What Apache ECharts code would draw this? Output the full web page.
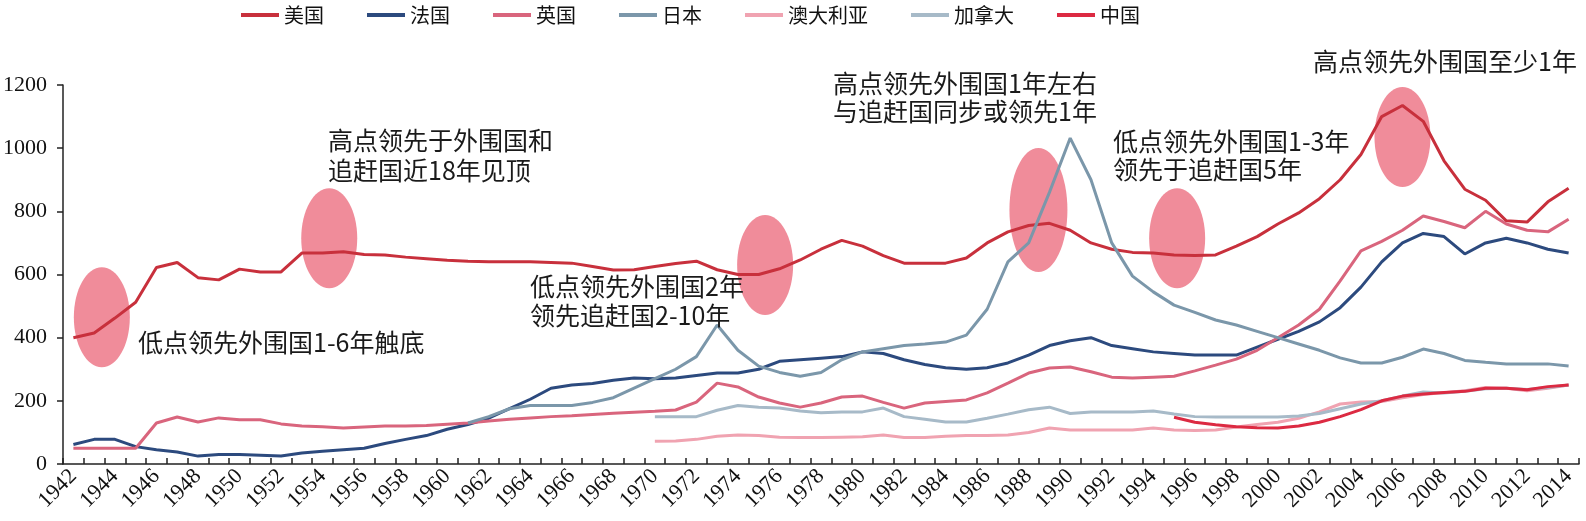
<!DOCTYPE html>
<html>
<head>
<meta charset="utf-8">
<script src="https://cdn.jsdelivr.net/npm/echarts@6/dist/echarts.min.js"></script>
<style>
  html, body { margin: 0; padding: 0; background: #fff; }
  #main { width: 1586px; height: 521px; }
</style>
</head>
<body>
<div id="main"></div>
<script>
// 年份 1942-2014
var years = [];
for (var y = 1942; y <= 2014; y++) { years.push(String(y)); }

var names = ['美国', '法国', '英国', '日本', '澳大利亚', '加拿大', '中国'];
var colors = ['#c8303c', '#2c4a7e', '#d9657d', '#7b97aa', '#f0a3b1', '#a7bac8', '#dc2a42'];

// 美国 1942-2014
var usData = [400, 415, 462, 512, 622, 638, 590, 583, 617, 608,
  608, 668, 668, 672, 663, 662, 655, 650, 645, 642,
  640, 640, 640, 638, 636, 625, 614, 615, 625, 635,
  642, 615, 600, 600, 618, 646, 680, 708, 690, 660,
  636, 636, 636, 652, 700, 735, 755, 762, 740, 700,
  680, 670, 668, 662, 660, 662, 690, 720, 760, 795,
  840, 900, 980, 1100, 1135, 1085, 960, 870, 835, 770,
  766, 830, 873];

// 法国 1942-2014
var franceData = [62, 78, 78, 55, 45, 38, 25, 30, 30, 28,
  25, 35, 40, 45, 50, 65, 78, 90, 110, 125,
  145, 175, 205, 240, 250, 255, 265, 272, 270, 272,
  280, 288, 288, 300, 325, 330, 335, 340, 355, 350,
  330, 315, 305, 300, 305, 320, 345, 375, 390, 400,
  375, 365, 355, 350, 345, 345, 345, 370, 395, 420,
  450, 495, 560, 640, 700, 730, 720, 665, 700, 715,
  700, 680, 668];

// 英国 1942-2014
var ukData = [50, 50, 50, 50, 130, 149, 133, 146, 140, 140,
  127, 120, 118, 114, 117, 120, 120, 122, 126, 130,
  136, 142, 146, 150, 153, 157, 161, 164, 167, 171,
  196, 256, 244, 212, 193, 180, 193, 212, 215, 195,
  177, 193, 198, 203, 225, 256, 288, 304, 307, 292,
  275, 272, 275, 278, 295, 313, 332, 360, 400, 440,
  490, 580, 675, 705, 740, 785, 768, 748, 800, 760,
  740, 735, 775];

// 日本 1961-2014
var japanData = [null, null, null, null, null, null, null, null, null, null,
  null, null, null, null, null, null, null, null, null, 130,
  150, 175, 185, 185, 185, 195, 210, 240, 270, 300,
  340, 440, 360, 310, 290, 278, 290, 330, 355, 365,
  375, 380, 386, 408, 490, 640, 700, 860, 1032, 900,
  700, 595, 545, 503, 480, 456, 440, 420, 400, 380,
  360, 336, 320, 320, 338, 364, 350, 328, 322, 317,
  317, 317, 310];

// 澳大利亚 1970-2014
var ausData = [null, null, null, null, null, null, null, null, null, null,
  null, null, null, null, null, null, null, null, null, null,
  null, null, null, null, null, null, null, null, 72, 73,
  78, 88, 92, 90, 85, 84, 84, 85, 86, 92,
  84, 84, 88, 90, 90, 92, 100, 114, 108, 108,
  108, 108, 114, 108, 106, 108, 117, 125, 132, 145,
  165, 190, 196, 198, 210, 220, 226, 232, 242, 240,
  232, 240, 250];

// 加拿大 1970-2014
var canadaData = [null, null, null, null, null, null, null, null, null, null,
  null, null, null, null, null, null, null, null, null, null,
  null, null, null, null, null, null, null, null, 150, 150,
  150, 170, 185, 180, 177, 168, 162, 165, 165, 177,
  150, 142, 133, 133, 145, 158, 172, 180, 160, 165,
  165, 165, 168, 158, 150, 149, 149, 149, 149, 152,
  160, 175, 190, 200, 215, 228, 225, 230, 238, 240,
  236, 242, 250];

// 中国 1995-2014
var chinaData = [null, null, null, null, null, null, null, null, null, null,
  null, null, null, null, null, null, null, null, null, null,
  null, null, null, null, null, null, null, null, null, null,
  null, null, null, null, null, null, null, null, null, null,
  null, null, null, null, null, null, null, null, null, null,
  null, null, null, 148, 132, 124, 118, 115, 114, 120,
  132, 150, 172, 200, 215, 222, 226, 230, 240, 240,
  235, 245, 250];

var allData = [usData, franceData, ukData, japanData, ausData, canadaData, chinaData];

// 标注：椭圆中心（年份, 数值）和半径
var ovals = [
  {year: 1943.37, value: 465, rx: 28, ry: 50},
  {year: 1954.32, value: 715, rx: 28, ry: 50},
  {year: 1975.31, value: 630, rx: 28, ry: 50},
  {year: 1988.47, value: 804, rx: 29, ry: 62},
  {year: 1995.15, value: 715, rx: 28, ry: 50},
  {year: 2006.0, value: 1035, rx: 28, ry: 50}
];
var notes = [
  {text: '低点领先外围国1-6年触底', x: 138, y: 327, lh: 30},
  {text: '高点领先于外围国和\n追赶国近18年见顶', x: 328, y: 125, lh: 30},
  {text: '低点领先外围国2年\n领先追赶国2-10年', x: 530, y: 272, lh: 29},
  {text: '高点领先外围国1年左右\n与追赶国同步或领先1年', x: 833, y: 69, lh: 28},
  {text: '低点领先外围国1-3年\n领先于追赶国5年', x: 1113, y: 127, lh: 28},
  {text: '高点领先外围国至少1年', x: 1313, y: 47, lh: 28}
];

var chart = echarts.init(document.getElementById('main'));

var series = [];
for (var i = 0; i < names.length; i++) {
  series.push({
    name: names[i],
    type: 'line',
    data: allData[i],
    symbol: 'none',
    connectNulls: false,
    z: 3,
    lineStyle: {width: 3, color: colors[i]},
    itemStyle: {color: colors[i]}
  });
}

var option = {
  animation: false,
  backgroundColor: '#fff',
  legend: {
    data: names,
    left: 236,
    top: 0,
    itemWidth: 38,
    itemHeight: 4,
    itemGap: 43,
    icon: 'rect',
    textStyle: {fontFamily: 'Noto Sans CJK SC', fontSize: 20, color: '#111'}
  },
  grid: {left: 59, right: 7, top: 85, bottom: 57},
  xAxis: {
    type: 'category',
    data: years,
    boundaryGap: true,
    axisLine: {lineStyle: {color: '#222', width: 1.5}},
    axisTick: {show: true, inside: true, interval: 0, length: 6, lineStyle: {color: '#222', width: 1.5}},
    axisLabel: {
      interval: 1,
      rotate: 45,
      margin: 9,
      fontFamily: 'Liberation Serif',
      fontSize: 22,
      color: '#111'
    },
    splitLine: {show: false}
  },
  yAxis: {
    type: 'value',
    min: 0,
    max: 1200,
    interval: 200,
    axisLine: {show: true, lineStyle: {color: '#222', width: 1.5}},
    axisTick: {show: true, length: 6, lineStyle: {color: '#222', width: 1.5}},
    axisLabel: {
      margin: 16,
      fontFamily: 'Liberation Serif',
      fontSize: 22,
      color: '#111',
      formatter: function (v) { return String(v); }
    },
    splitLine: {show: false}
  },
  series: series
};
chart.setOption(option);

// 年份(可带小数)和数值 -> 像素
function toPixel(year, val) {
  var idx = year - 1942;
  var i0 = Math.floor(idx);
  var p0 = chart.convertToPixel({gridIndex: 0}, [i0, val]);
  var p1 = chart.convertToPixel({gridIndex: 0}, [i0 + 1, val]);
  var f = idx - i0;
  return [p0[0] + (p1[0] - p0[0]) * f, p0[1]];
}

var graphics = [];
// 椭圆放在折线下面
ovals.forEach(function (o) {
  var c = toPixel(o.year, o.value);
  graphics.push({
    type: 'ellipse',
    shape: {cx: c[0], cy: c[1], rx: o.rx, ry: o.ry},
    style: {fill: '#f08c9a'},
    z: 1
  });
});
notes.forEach(function (n) {
  graphics.push({
    type: 'text',
    x: n.x,
    y: n.y,
    style: {
      text: n.text,
      fontFamily: 'Noto Sans CJK SC',
      fontSize: 25,
      lineHeight: n.lh,
      fill: '#1a1a1a',
      verticalAlign: 'top'
    },
    z: 100
  });
});
chart.setOption({graphic: graphics});
</script>
</body>
</html>
